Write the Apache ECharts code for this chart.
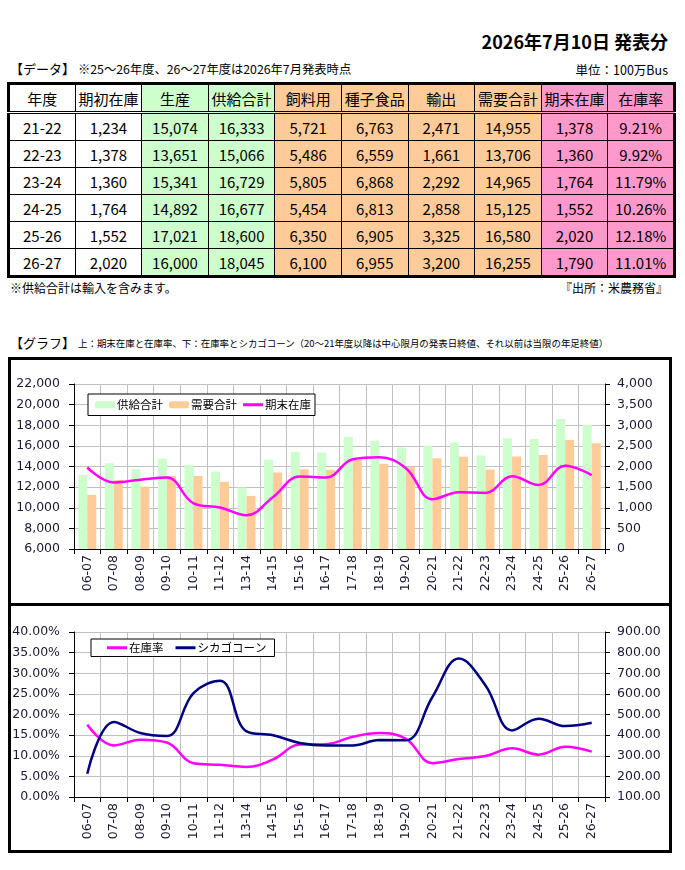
<!DOCTYPE html>
<html>
<head>
<meta charset="utf-8">
<script src="https://cdn.jsdelivr.net/npm/echarts@6/dist/echarts.min.js"></script>
<style>
  html, body { margin: 0; padding: 0; background: #fff; }
  #page { position: relative; width: 685px; height: 870px; font-family: "Noto Sans CJK JP", "DejaVu Sans", sans-serif; color: #000; }
  .txt { position: absolute; white-space: nowrap; line-height: 1.2; }
  #tbl { position: absolute; left: 7px; top: 82px; width: 669px; border-collapse: collapse; border: 3px solid #000; table-layout: fixed; }
  #tbl td, #tbl th { border: 1px solid #000; text-align: center; padding: 0; font-weight: normal; font-size: 15px; }
  #tbl th { height: 26px; border-bottom: 3px double #000; }
  #tbl td { height: 26px; }
  .g { background: #ccffcc; }
  .o { background: #ffcc99; }
  .p { background: #ff99cc; }
  #box { position: absolute; left: 8px; top: 357px; width: 664px; height: 496px; box-sizing: border-box; border: 3px solid #000; }
  #divider { position: absolute; left: 8px; top: 603px; width: 664px; height: 3px; background: #000; }
  #chart { position: absolute; left: 0; top: 0; width: 685px; height: 870px; }
</style>
</head>
<body>
<div id="page">
  <div class="txt" style="right:17px; top:31px; font-size:18px; font-weight:bold;">2026年7月10日 発表分</div>
  <div class="txt" style="left:10px; top:61px; font-size:13px;">【データ】</div>
  <div class="txt" style="left:78px; top:62px; font-size:12.3px;">※25～26年度、26～27年度は2026年7月発表時点</div>
  <div class="txt" style="right:17px; top:62px; font-size:12.5px;">単位：100万Bus</div>
  <table id="tbl"></table>
  <div class="txt" style="left:10px; top:281px; font-size:12px;">※供給合計は輸入を含みます。</div>
  <div class="txt" style="right:17px; top:281px; font-size:12px;">『出所：米農務省』</div>
  <div class="txt" style="left:10px; top:335px; font-size:13px;">【グラフ】</div>
  <div class="txt" style="left:78px; top:338px; font-size:9.45px;">上：期末在庫と在庫率、下：在庫率とシカゴコーン（20～21年度以降は中心限月の発表日終値、それ以前は当限の年足終値）</div>
  <div id="box"></div>
  <div id="divider"></div>
  <div id="chart"></div>
</div>
<script>
// テーブル (21-22 ～ 26-27)
const tblYears = ['21-22', '22-23', '23-24', '24-25', '25-26', '26-27']
const begStock = [1234, 1378, 1360, 1764, 1552, 2020]
const production = [15074, 13651, 15341, 14892, 17021, 16000]
const totalSupply = [16333, 15066, 16729, 16677, 18600, 18045]
const feed = [5721, 5486, 5805, 5454, 6350, 6100]
const seedFood = [6763, 6559, 6868, 6813, 6905, 6955]
const exportsUS = [2471, 1661, 2292, 2858, 3325, 3200]
const totalDemand = [14955, 13706, 14965, 15125, 16580, 16255]
const endStock = [1378, 1360, 1764, 1552, 2020, 1790]
const stockRatio = [9.21, 9.92, 11.79, 10.26, 12.18, 11.01]

// グラフ用 (06-07 ～ 20-21 はグラフから読み取り)
const histYears = ['06-07', '07-08', '08-09', '09-10', '10-11', '11-12', '13-14', '14-15',
    '15-16', '16-17', '17-18', '18-19', '19-20', '20-21']
const histSupply = [13190, 14320, 13740, 14750, 14160, 13510, 11960, 14650, 15420, 15360, 16880, 16490, 15850, 16010]
const histDemand = [11250, 12700, 12060, 13090, 13090, 12510, 11150, 13420, 13740, 13680, 14650, 14260, 13940, 14810]
const histEndStock = [1976, 1611, 1680, 1735, 1109, 1004, 818, 1262, 1757, 1733, 2178, 2227, 1960, 1206]
const histRatio = [17.5, 12.5, 13.9, 13.2, 8.2, 7.8, 7.3, 9.1, 12.7, 12.8, 14.6, 15.5, 14.1, 8.2]
const cornPrice = [213, 464, 410, 396, 604, 664, 418, 399, 362, 350, 350, 376, 375, 585, 771, 641, 423, 480, 444, 460]

const years = histYears.concat(tblYears)
const supplySeries = histSupply.concat(totalSupply)
const demandSeries = histDemand.concat(totalDemand)
const endStockSeries = histEndStock.concat(endStock)
const ratioSeries = histRatio.concat(stockRatio)

const fmt = v => v.toLocaleString('en-US')

// テーブル描画
const headers = [['年度', ''], ['期初在庫', ''], ['生産', 'g'], ['供給合計', 'g'], ['飼料用', 'o'],
    ['種子食品', 'o'], ['輸出', 'o'], ['需要合計', 'o'], ['期末在庫', 'p'], ['在庫率', 'p']]
let html = '<tr>' + headers.map(h => '<th class="' + h[1] + '">' + h[0] + '</th>').join('') + '</tr>'
tblYears.forEach((y, i) => {
    const cells = [y, fmt(begStock[i]), fmt(production[i]), fmt(totalSupply[i]), fmt(feed[i]),
        fmt(seedFood[i]), fmt(exportsUS[i]), fmt(totalDemand[i]), fmt(endStock[i]), stockRatio[i].toFixed(2) + '%']
    html += '<tr>' + cells.map((c, j) => '<td class="' + headers[j][1] + '">' + c + '</td>').join('') + '</tr>'
})
document.getElementById('tbl').innerHTML = html

// グラフ
const axisFont = { fontFamily: '"DejaVu Sans"', fontSize: 12.5, color: '#1a1a33' }
const gridLine = { show: true, lineStyle: { color: '#c0c0c0', width: 1 } }
const blackLine = { show: true, lineStyle: { color: '#000', width: 1 } }
const lineIcon = 'path://M0,0H20V3H0Z'

const catAxis = idx => ({
    type: 'category',
    gridIndex: idx,
    data: years,
    axisLine: blackLine,
    axisTick: { show: true, length: 5, lineStyle: { color: '#000' } },
    splitLine: gridLine,
    axisLabel: Object.assign({ rotate: 90, interval: 0, margin: 6 }, axisFont)
})

const valAxis = (idx, pos, min, max, interval, formatter, split) => ({
    type: 'value',
    gridIndex: idx,
    position: pos,
    min, max, interval,
    axisLine: blackLine,
    axisTick: { show: true, length: 5, lineStyle: { color: '#000' } },
    splitLine: split ? gridLine : { show: false },
    axisLabel: Object.assign({ formatter, margin: pos === 'left' ? 14 : 12 }, axisFont)
})

const legendBase = {
    orient: 'horizontal',
    backgroundColor: '#fff',
    borderColor: '#000',
    borderWidth: 1,
    itemWidth: 20,
    itemHeight: 7,
    textStyle: { fontFamily: 'Noto Sans CJK JP', fontSize: 11.5, color: '#000', padding: [0, 0, 0, -3] }
}

const chart = echarts.init(document.getElementById('chart'))
chart.setOption({
    animation: false,
    grid: [
        { left: 74, top: 384, width: 531, height: 165 },
        { left: 74, top: 632, width: 531, height: 165 }
    ],
    legend: [
        Object.assign({}, legendBase, {
            left: 88, top: 394, padding: [5, 4, 5, 7], itemGap: 6,
            data: ['供給合計', '需要合計', { name: '期末在庫', icon: lineIcon }]
        }),
        Object.assign({}, legendBase, {
            left: 91, top: 639, padding: [3, 8, 3, 16], itemGap: 12,
            data: [{ name: '在庫率', icon: lineIcon }, { name: 'シカゴコーン', icon: lineIcon }]
        })
    ],
    xAxis: [catAxis(0), catAxis(1)],
    yAxis: [
        valAxis(0, 'left', 6000, 22000, 2000, v => fmt(v), true),
        valAxis(0, 'right', 0, 4000, 500, v => fmt(v), false),
        valAxis(1, 'left', 0, 40, 5, v => v.toFixed(2) + '%', true),
        valAxis(1, 'right', 100, 900, 100, v => v.toFixed(2), false)
    ],
    series: [
        {
            name: '供給合計', type: 'bar', xAxisIndex: 0, yAxisIndex: 0,
            data: supplySeries, barWidth: 9, barGap: '0%',
            itemStyle: { color: '#ccffcc' }
        },
        {
            name: '需要合計', type: 'bar', xAxisIndex: 0, yAxisIndex: 0,
            data: demandSeries, barWidth: 9, barGap: '0%',
            itemStyle: { color: '#ffcc99' }
        },
        {
            name: '期末在庫', type: 'line', xAxisIndex: 0, yAxisIndex: 1,
            data: endStockSeries, smooth: 0.4, symbol: 'none',
            lineStyle: { color: '#ff00ff', width: 2.5 }, itemStyle: { color: '#ff00ff' }
        },
        {
            name: '在庫率', type: 'line', xAxisIndex: 1, yAxisIndex: 2,
            data: ratioSeries, smooth: 0.4, symbol: 'none',
            lineStyle: { color: '#ff00ff', width: 2.5 }, itemStyle: { color: '#ff00ff' }
        },
        {
            name: 'シカゴコーン', type: 'line', xAxisIndex: 1, yAxisIndex: 3,
            data: cornPrice, smooth: 0.4, symbol: 'none',
            lineStyle: { color: '#000080', width: 2.5 }, itemStyle: { color: '#000080' }
        }
    ]
})
</script>
</body>
</html>
